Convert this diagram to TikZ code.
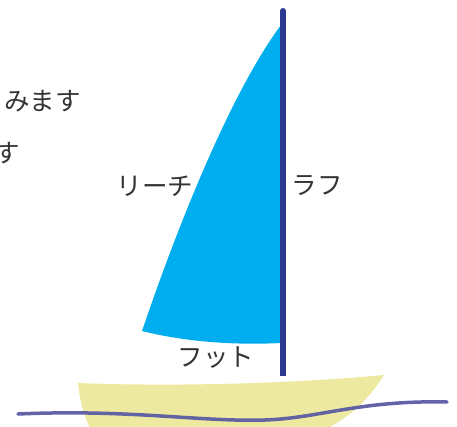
\documentclass[tikz,border=0pt]{standalone}
\usepackage{fontspec}
\newfontfamily\jpfont{Noto Sans CJK JP}
\definecolor{sailblue}{HTML}{00AEEF}
\definecolor{mastblue}{HTML}{2B3990}
\definecolor{hullyellow}{HTML}{EEE9A0}
\definecolor{waterline}{HTML}{5B5CA3}
\definecolor{labelgray}{HTML}{333333}
\begin{document}
\begin{tikzpicture}[x=1pt,y=-1pt,
  label text/.style={font=\jpfont\fontsize{25.5}{30}\selectfont, text=labelgray, inner sep=0pt}]
\useasboundingbox (0,0) rectangle (457,426);
\clip (0,0) rectangle (457,426);
% hull
\fill[hullyellow] (78,383) .. controls (180,387) and (300,383) .. (384,375)
  .. controls (365,405) and (345,420) .. (320,432) -- (92,432)
  .. controls (83,415) and (80,400) .. (78,383) -- cycle;
% sail
\fill[sailblue] (281,25) .. controls (240,80) and (190,190) .. (142,331)
  .. controls (190,343) and (240,345) .. (281,343) -- cycle;
% mast
\draw[mastblue, line width=6pt] (283,11) -- (283,376);
\fill[mastblue] (283,11) circle (3pt);
% water
\draw[waterline, line width=3.5pt, line cap=round, opacity=0.95]
  (18,414) .. controls (130,409) and (200,422) .. (265,420)
  .. controls (320,418) and (360,400) .. (447,402);
% labels
\node[label text, anchor=east] (line1) at (81,101) {みます};
\node[label text, anchor=east] (line2) at (20,153) {す};
\node[label text] (leech) at (155,186) {リーチ};
\node[label text] (luff) at (317,186) {ラフ};
\node[label text] (foot) at (216,358) {フット};
\end{tikzpicture}
\end{document}
